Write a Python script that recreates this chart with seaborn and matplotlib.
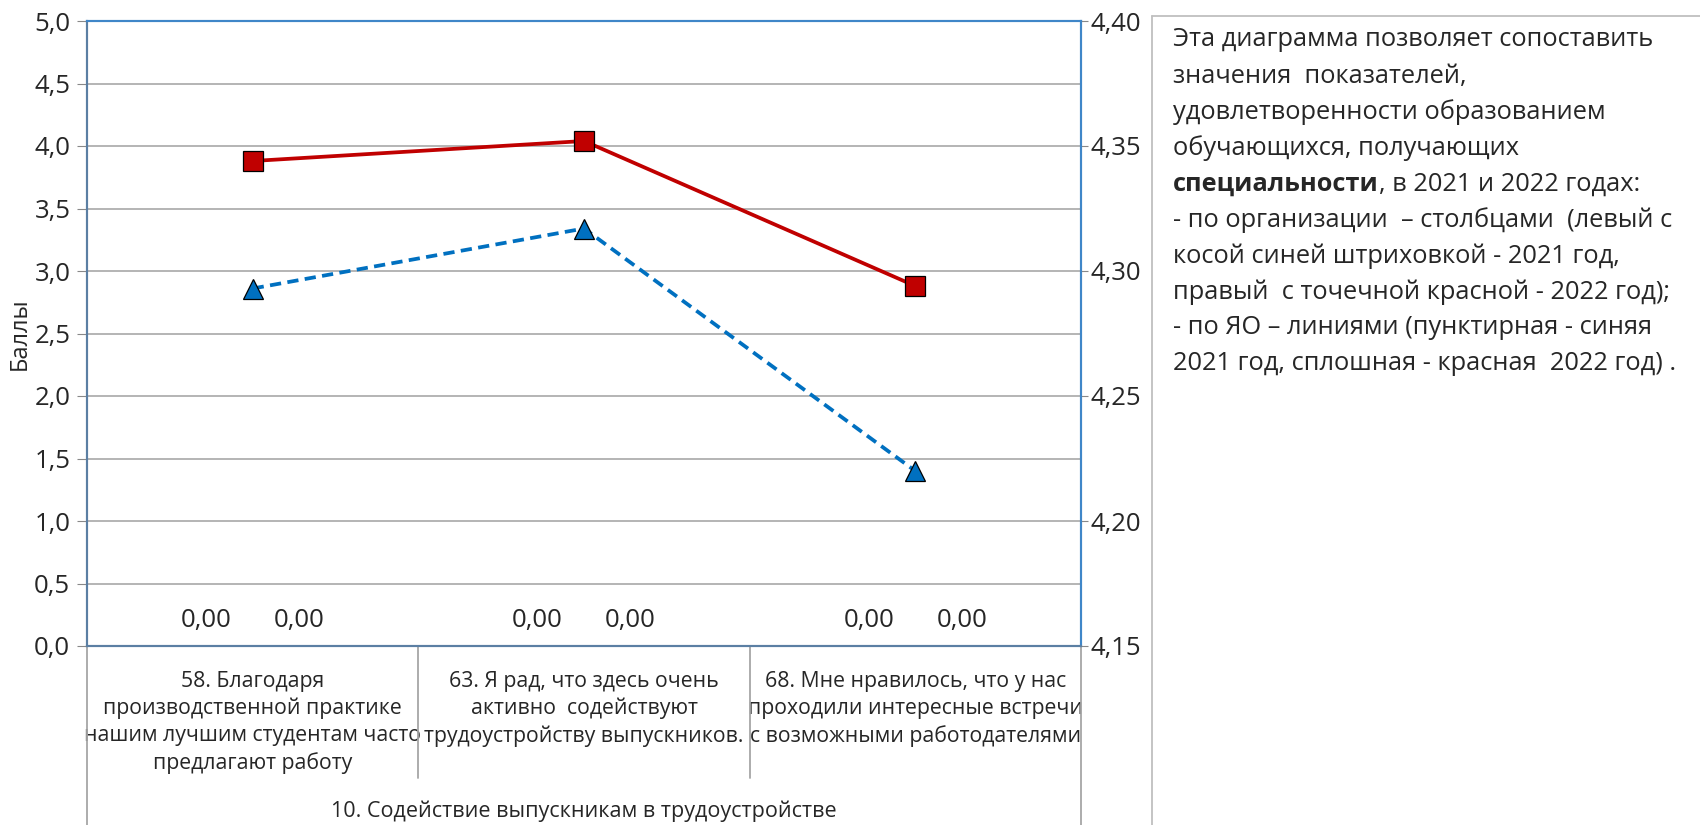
import numpy as np
import pandas as pd
import seaborn as sns
import matplotlib
matplotlib.use('Agg')
import matplotlib.pyplot as plt
import matplotlib.transforms as mtransforms
from matplotlib.lines import Line2D
from matplotlib.ticker import FuncFormatter, MultipleLocator

# data
categories = ['58. Благодаря\nпроизводственной практике\nнашим лучшим студентам часто\nпредлагают работу',
              '63. Я рад, что здесь очень\nактивно  содействуют\nтрудоустройству выпускников.',
              '68. Мне нравилось, что у нас\nпроходили интересные встречи\nс возможными работодателями']
group_label = '10. Содействие выпускникам в трудоустройстве'
org_2021 = [0.0, 0.0, 0.0]   # bars, left axis
org_2022 = [0.0, 0.0, 0.0]
yo_2021 = [4.293, 4.317, 4.220]  # lines, right axis
yo_2022 = [4.344, 4.352, 4.294]
note_lines = ['Эта диаграмма позволяет сопоставить',
              'значения  показателей,',
              'удовлетворенности образованием',
              'обучающихся, получающих',
              None,
              '- по организации  – столбцами  (левый с',
              'косой синей штриховкой - 2021 год,',
              'правый  с точечной красной - 2022 год);',
              '- по ЯО – линиями (пунктирная - синяя',
              '2021 год, сплошная - красная  2022 год) .']

sns.set_style('white')
plt.rcParams['font.family'] = ['Open Sans', 'DejaVu Sans']

W, H = 1700, 825
fig = plt.figure(figsize=(17, 8.25), dpi=100)
x0, x1, y0, y1 = 87, 1081, 646, 21
ax = fig.add_axes([x0 / W, 1 - y0 / H, (x1 - x0) / W, (y0 - y1) / H])

df = pd.DataFrame({'cat': categories * 2,
                   'val': org_2021 + org_2022,
                   'year': ['2021'] * 3 + ['2022'] * 3})
sns.barplot(data=df, x='cat', y='val', hue='year', palette=['#0070C0', '#C00000'],
            width=0.56, errorbar=None, legend=False, ax=ax)
for c in ax.containers:
    ax.bar_label(c, fmt=lambda v: f'{v:.2f}'.replace('.', ','), padding=9, fontsize=18.5)

ax.set_ylim(0, 5)
ax.yaxis.set_major_locator(MultipleLocator(0.5))
ax.yaxis.set_major_formatter(FuncFormatter(lambda v, p: f'{v:.1f}'.replace('.', ',')))
ax.grid(axis='y', color='#A0A0A0', lw=1.1)
ax.grid(axis='x', visible=False)
ax.set_axisbelow(True)
ax.set_xlabel('')
ax.set_ylabel('Баллы', fontsize=17, labelpad=2)
ax.tick_params(axis='x', length=0, pad=18, labelsize=15.3)
ax.tick_params(axis='y', left=True, direction='out', length=7, color='#888888', labelsize=18.5, pad=5)
for lab in ax.get_xticklabels():
    lab.set_multialignment('center')
    lab.set_verticalalignment('top')
    lab.set_linespacing(1.36)

ax2 = ax.twinx()
pos = np.arange(len(categories))
sns.lineplot(x=pos, y=yo_2021, ax=ax2, color='#0070C0', lw=2.7, linestyle=(0, (3, 1.7)),
             marker='^', markersize=14, markerfacecolor='#0070C0', markeredgecolor='black',
             markeredgewidth=0.9)
sns.lineplot(x=pos, y=yo_2022, ax=ax2, color='#C00000', lw=2.7,
             marker='s', markersize=14, markerfacecolor='#C00000', markeredgecolor='black',
             markeredgewidth=0.9)
ax2.set_ylim(4.15, 4.40)
ax2.yaxis.set_major_locator(MultipleLocator(0.05))
ax2.yaxis.set_major_formatter(FuncFormatter(lambda v, p: f'{v:.2f}'.replace('.', ',')))
ax2.tick_params(axis='y', right=True, direction='out', length=5, color='#888888', labelsize=18.5, pad=2)
ax2.grid(False)

for a in (ax, ax2):
    a.spines['left'].set_color('#5B7FA3')
    a.spines['bottom'].set_color('#5B7FA3')
    a.spines['top'].set_color('#3F86C8')
    a.spines['right'].set_color('#3F86C8')
    for s in a.spines.values():
        s.set_linewidth(1.5)

# category dividers under the axis
trans = mtransforms.blended_transform_factory(ax.transData, ax.transAxes)
for xb in [0.5, 1.5]:
    ax.add_line(Line2D([xb, xb], [0, -(778 - y0) / (y0 - y1)], transform=trans,
                       clip_on=False, color='#A6A6A6', lw=1.3))
for xb in [-0.5, 2.5]:
    ax.add_line(Line2D([xb, xb], [0, -(H - y0) / (y0 - y1)], transform=trans,
                       clip_on=False, color='#A6A6A6', lw=1.3))
ax.set_xlim(-0.5, 2.5)
ax2.set_xlim(-0.5, 2.5)

fig.text((x0 + x1) / 2 / W, 1 - 811 / H, group_label, ha='center', va='center', fontsize=15.5)

# text box on the right
bx = 1152
fig.add_artist(Line2D([bx / W, bx / W], [0, 1 - 16 / H], transform=fig.transFigure, color='#BFBFBF', lw=1.3))
fig.add_artist(Line2D([bx / W, 1], [1 - 16 / H, 1 - 16 / H], transform=fig.transFigure, color='#BFBFBF', lw=1.3))
tx = 1173 / W
fs = 18.3
for i, line in enumerate(note_lines):
    y = 1 - (37 + 36 * i) / H
    if line is None:
        t1 = fig.text(tx, y, 'специальности', fontsize=fs, weight='bold', va='center_baseline')
        fig.canvas.draw()
        bb = t1.get_window_extent()
        fig.text(bb.x1 / W, y, ', в 2021 и 2022 годах:', fontsize=fs, va='center_baseline')
    else:
        fig.text(tx, y, line, fontsize=fs, va='center_baseline')

fig.savefig('out.png', dpi=100)
